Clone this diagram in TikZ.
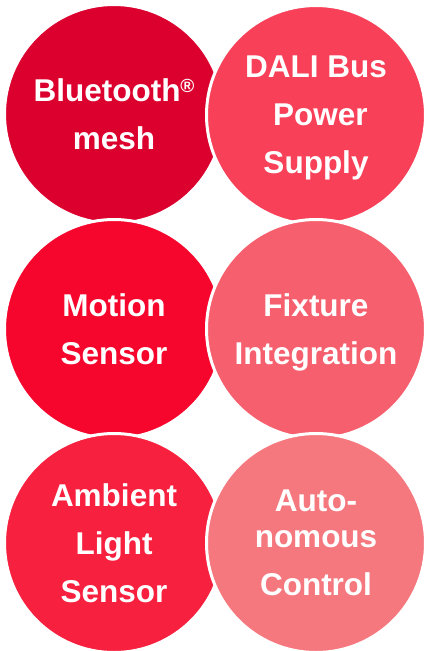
\documentclass[tikz,border=0pt]{standalone}
\usepackage{fontspec}
\setmainfont{Liberation Sans}
\usetikzlibrary{positioning}
\definecolor{deepred}{RGB}{220,0,46}
\definecolor{rosered}{RGB}{248,64,88}
\definecolor{brightred}{RGB}{246,5,45}
\definecolor{coralred}{RGB}{246,95,110}
\definecolor{lightred}{RGB}{247,32,63}
\definecolor{palered}{RGB}{245,120,127}

\begin{document}
\begin{tikzpicture}[x=1pt, y=1pt,
  bubble/.style={circle, minimum size=219pt, inner sep=0pt, draw=white, line width=3pt,
    text=white, align=center, text depth=0pt, font=\fontsize{31.5}{48}\selectfont\bfseries}]
  \useasboundingbox (0,0) rectangle (424,-651);

  % Top row
  \node[bubble, fill=deepred] (mesh) at (114,-114) {Bluetooth\raisebox{9pt}{\fontsize{19}{19}\selectfont ®}\\mesh};
  \node[bubble, fill=rosered] (dali) at (316,-115) {DALI Bus\\\mbox{ }Power\\Supply};

  % Middle row
  \node[bubble, fill=brightred] (motion) at (114,-329) {Motion\\Sensor};
  \node[bubble, fill=coralred] (fixture) at (316,-329) {Fixture\\Integration};

  % Bottom row
  \node[bubble, fill=lightred] (ambient) at (114,-543) {Ambient\\Light\\Sensor};
  \node[bubble, fill=palered] (auto) at (316,-543) {Auto-\\[-12pt]nomous\\Control};
\end{tikzpicture}
\end{document}
